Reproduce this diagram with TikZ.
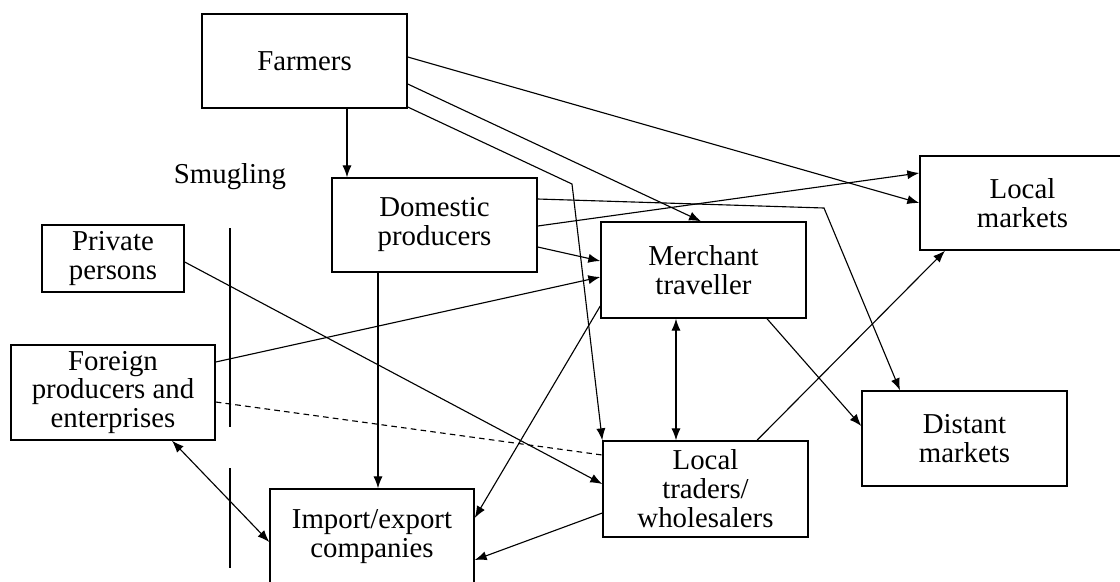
\documentclass[tikz,border=0pt]{standalone}
\usepackage{fontspec}
\setmainfont{Liberation Serif}
\usetikzlibrary{arrows.meta}
\begin{document}
\begin{tikzpicture}[x=0.025cm,y=-0.025cm,
  box/.style={draw,line width=1pt,inner sep=0pt,align=center,
    font=\fontsize{20.5}{20.6}\selectfont},
  arr/.style={line width=0.8pt,-{Latex[length=8.5pt,width=6.5pt]}},
  both/.style={line width=0.8pt,{Latex[length=8.5pt,width=6.5pt]}-{Latex[length=8.5pt,width=6.5pt]}}]
  \clip (0,0) rectangle (1120,581);
  \node [box,minimum width=5.125cm,minimum height=2.35cm] (farmers) at (304.5,61) {Farmers};
  \node [box,minimum width=5.125cm,minimum height=2.35cm] (domestic) at (434.5,225) {Domestic\\producers};
  \node [box,minimum width=5.125cm,minimum height=2.4cm] (merchant) at (703.5,270) {Merchant\\traveller};
  \node [box,minimum width=5.125cm,minimum height=2.35cm] (localmkt) at (1022.5,203) {Local\\markets};
  \node [box,minimum width=3.55cm,minimum height=1.675cm] (private) at (113,258.5) {Private\\persons};
  \node [box,minimum width=5.1cm,minimum height=2.375cm] (foreign) at (113,392.5) {Foreign\\producers and\\enterprises};
  \node [box,minimum width=5.1cm,minimum height=2.4cm] (importexp) at (372,537) {Import/export\\companies};
  \node [box,minimum width=5.125cm,minimum height=2.4cm] (traders) at (705.5,489) {Local\\traders/\\wholesalers};
  \node [box,minimum width=5.125cm,minimum height=2.375cm] (distant) at (964.5,438.5) {Distant\\markets};
  \node [font=\fontsize{20.5}{20.6}\selectfont] (smug) at (230,177) {Smugling};
  \draw [line width=0.8pt] (230,228) -- (230,427);
  \draw [line width=0.8pt] (230,468) -- (230,568);
  \coordinate (bendA) at (572,184);
  \coordinate (bendB) at (824,208);
  \draw [arr] (farmers.south -| 347,0) -- (domestic.north -| 347,0);
  \draw [arr] (farmers.east |- 0,57) -- (localmkt.west |- 0,203);
  \draw [arr] (farmers.east |- 0,84) -- (merchant.north -| 701,0);
  \draw [arr] (farmers.east |- 0,107) -- (bendA) -- (traders.north west);
  \draw [arr] (domestic.east |- 0,199) -- (bendB) -- (distant.north -| 900,0);
  \draw [arr] (domestic.east |- 0,226) -- (localmkt.west |- 0,173);
  \draw [arr] (domestic.east |- 0,247) -- (merchant.west |- 0,261);
  \draw [arr] (foreign.east |- 0,362) -- (merchant.west |- 0,277);
  \draw [arr] (merchant.west |- 0,306) -- (importexp.east |- 0,518);
  \draw [both] (merchant.south -| 676,0) -- (traders.north -| 676,0);
  \draw [arr] (merchant.south -| 767,0) -- (distant.west |- 0,426);
  \draw [arr] (traders.north -| 757,0) -- (localmkt.south -| 945,0);
  \draw [arr] (private.east |- 0,262) -- (traders.west |- 0,484);
  \draw [line width=0.8pt,dash pattern=on 4pt off 3pt] (foreign.east |- 0,402) -- (traders.west |- 0,455);
  \draw [both] (foreign.south -| 172,0) -- (importexp.west |- 0,542);
  \draw [arr] (domestic.south -| 378,0) -- (importexp.north -| 378,0);
  \draw [arr] (traders.west |- 0,513) -- (importexp.east |- 0,560);
\end{tikzpicture}
\end{document}
